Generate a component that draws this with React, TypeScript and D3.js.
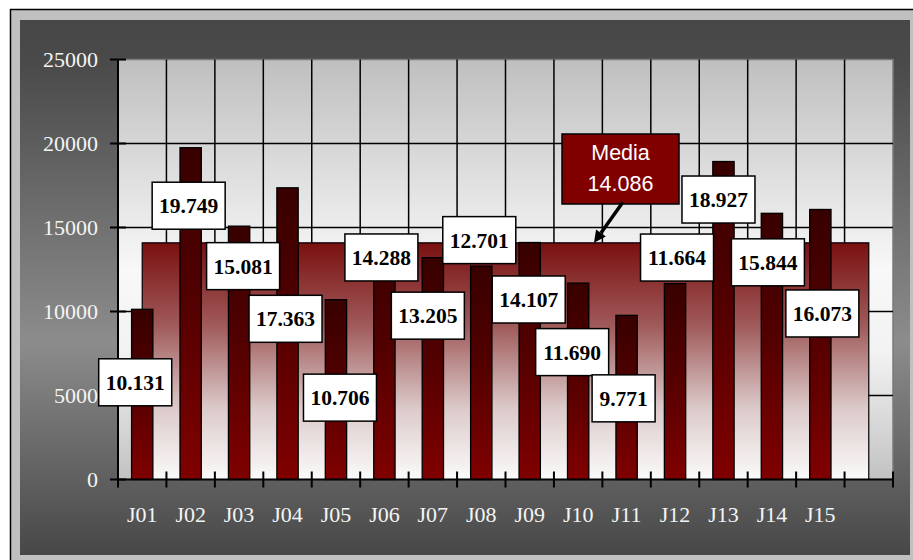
import React from "react";
import * as d3 from "d3";

const categories = ["J01", "J02", "J03", "J04", "J05", "J06", "J07", "J08", "J09", "J10", "J11", "J12", "J13", "J14", "J15"];
const values = [10131, 19749, 15081, 17363, 10706, 14288, 13205, 12701, 14107, 11690, 9771, 11664, 18927, 15844, 16073];
const mediaValue = 14086;
const mediaTitle = "Media";
const yTicks = [0, 5000, 10000, 15000, 20000, 25000];
// label placement (px offset from bar centre / bar top), as moved by hand in the original
const labelOffsets = [[-7, 73], [-2, 58], [4, 40], [-2, 131], [4, 98], [-3, 18], [-5, 58], [-2, -26], [-1, 57], [-6, 69], [-3, 83], [2, -26], [-5, 38], [-4, 49], [2, 104]];

const W = 913, H = 560;
const plot = { left: 118, right: 893, top: 59.5, bottom: 479.5 };

const locale = d3.formatLocale({ decimal: ",", thousands: ".", grouping: [3], currency: ["", ""] });
const fmt = locale.format(",d");

export default function App() {
  const slots = [...categories, ""];
  const x = d3.scaleBand().domain(slots).range([plot.left, plot.right]).padding(0);
  const y = d3.scaleLinear().domain([0, 25000]).range([plot.bottom, plot.top]);
  const bw = x.bandwidth();
  const barW = bw * 0.44;
  const cx = (c: string) => (x(c) as number) + bw / 2;

  const mediaPts: [number, number][] = slots.map((c) => [cx(c), mediaValue]);
  const area = d3.area<[number, number]>().x((d) => d[0]).y0(y(0)).y1((d) => y(d[1]));
  const boundaries = d3.range(1, slots.length).map((i) => plot.left + i * bw);

  const serif = "'Liberation Serif', 'Times New Roman', serif";
  const sans = "'Liberation Sans', Arial, sans-serif";

  // media annotation
  const boxX = 562, boxY = 134, boxW = 117, boxH = 70;
  const ax1 = 623, ay1 = boxY + boxH - 2;
  const ax2 = 594, ay2 = y(mediaValue);
  const dx = ax2 - ax1, dy = ay2 - ay1;
  const len = Math.hypot(dx, dy);
  const ux = dx / len, uy = dy / len;
  const headL = 12, headW = 6;
  const bx = ax2 - ux * headL, by = ay2 - uy * headL;
  const head = `${ax2},${ay2} ${bx - uy * headW},${by + ux * headW} ${bx + uy * headW},${by - ux * headW}`;

  return (
    <svg width={W} height={H} style={{ position: "absolute", left: 0, top: 0 }}>
      <defs>
        <linearGradient id="outerBg" x1="0" y1="0" x2="0" y2="1">
          <stop offset="0" stopColor="#474747" />
          <stop offset="0.08" stopColor="#4a4a4a" />
          <stop offset="0.6" stopColor="#8c8c8c" />
          <stop offset="1" stopColor="#474747" />
        </linearGradient>
        <linearGradient id="plotBg" x1="0" y1="0" x2="0" y2="1">
          <stop offset="0" stopColor="#bfbfbf" />
          <stop offset="0.5" stopColor="#f8f8f8" />
          <stop offset="0.7" stopColor="#f2f2f2" />
          <stop offset="1" stopColor="#c2c2c2" />
        </linearGradient>
        <linearGradient id="mediaFill" x1="0" y1="0" x2="0" y2="1">
          <stop offset="0" stopColor="#7a1010" />
          <stop offset="0.35" stopColor="#a05a5a" />
          <stop offset="0.7" stopColor="#dccaca" />
          <stop offset="1" stopColor="#fbfafa" />
        </linearGradient>
        <linearGradient id="barFill" x1="0" y1="0" x2="0" y2="1">
          <stop offset="0" stopColor="#380000" />
          <stop offset="0.45" stopColor="#520000" />
          <stop offset="1" stopColor="#800000" />
        </linearGradient>
      </defs>

      <rect x={10.5} y={9.5} width={940} height={600} fill="#c0c0c0" stroke="#000" strokeWidth={1.5} />
      <rect x={20} y={20} width={890} height={535} fill="url(#outerBg)" />

      <rect x={plot.left} y={plot.top} width={plot.right - plot.left} height={plot.bottom - plot.top} fill="url(#plotBg)" stroke="#7a7a7a" strokeWidth={1.5} />

      {yTicks.filter((t) => t > 0 && t < 25000).map((t) => (
        <line key={"h" + t} x1={plot.left} x2={plot.right} y1={y(t)} y2={y(t)} stroke="#000" strokeWidth={1.5} />
      ))}
      {boundaries.map((b, i) => (
        <line key={"v" + i} x1={b} x2={b} y1={plot.top} y2={plot.bottom} stroke="#000" strokeWidth={1.5} />
      ))}

      <path d={area(mediaPts) || ""} fill="url(#mediaFill)" stroke="#000" strokeWidth={1.2} />

      {categories.map((c, i) => (
        <rect key={c} x={cx(c) - barW / 2} y={y(values[i])} width={barW} height={y(0) - y(values[i])} fill="url(#barFill)" stroke="#000" strokeWidth={1.3} />
      ))}

      {/* axes */}
      <line x1={plot.left} x2={plot.left} y1={plot.top} y2={plot.bottom + 8} stroke="#000" strokeWidth={2} />
      <line x1={plot.left} x2={plot.right} y1={plot.bottom} y2={plot.bottom} stroke="#000" strokeWidth={2} />
      {yTicks.map((t) => (
        <line key={"yt" + t} x1={plot.left - 8} x2={plot.left + 8} y1={y(t)} y2={y(t)} stroke="#000" strokeWidth={2} />
      ))}
      {[...boundaries, plot.right].map((b, i) => (
        <line key={"xt" + i} x1={b} x2={b} y1={plot.bottom - 8} y2={plot.bottom + 8} stroke="#000" strokeWidth={2} />
      ))}
      {yTicks.map((t) => (
        <text key={"yl" + t} x={98} y={y(t)} dy="0.33em" textAnchor="end" fontFamily={serif} fontSize={22} fill="#f4f4f4">{t}</text>
      ))}
      {categories.map((c) => (
        <text key={"xl" + c} x={cx(c)} y={522} textAnchor="middle" fontFamily={serif} fontSize={22} fill="#f4f4f4">{c}</text>
      ))}

      {/* data labels */}
      {categories.map((c, i) => {
        const txt = fmt(values[i]);
        const w = 13 + 10 * txt.length;
        const lx = cx(c) + labelOffsets[i][0];
        const ly = y(values[i]) + labelOffsets[i][1];
        return (
          <g key={"lab" + c}>
            <rect x={lx - w / 2} y={ly - 23.5} width={w} height={47} fill="#fff" stroke="#000" strokeWidth={1.5} />
            <text x={lx} y={ly} dy="0.35em" textAnchor="middle" fontFamily={serif} fontWeight="bold" fontSize={21.5} fill="#000">{txt}</text>
          </g>
        );
      })}

      {/* media callout */}
      <rect x={boxX} y={boxY} width={boxW} height={boxH} fill="#800000" stroke="#000" strokeWidth={1.5} />
      <text x={boxX + boxW / 2} y={160} textAnchor="middle" fontFamily={sans} fontSize={21.5} fill="#fff">{mediaTitle}</text>
      <text x={boxX + boxW / 2} y={191} textAnchor="middle" fontFamily={sans} fontSize={21.5} fill="#fff">{fmt(mediaValue)}</text>
      <line x1={ax1} y1={ay1} x2={bx} y2={by} stroke="#000" strokeWidth={3.5} />
      <polygon points={head} fill="#000" />
    </svg>
  );
}
